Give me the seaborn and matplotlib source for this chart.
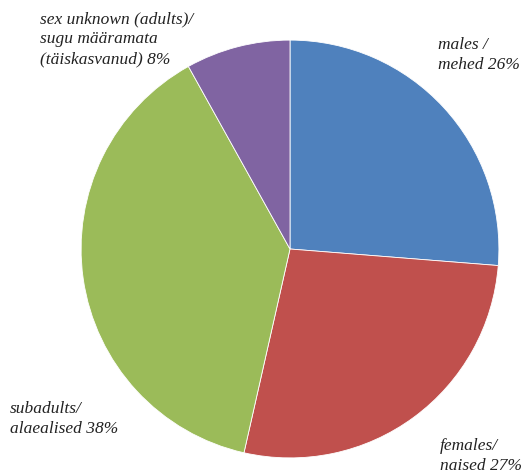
import matplotlib
matplotlib.use("Agg")
import matplotlib.pyplot as plt
import seaborn as sns

# shares in %, clockwise from 12 o'clock
categories = ["males / mehed", "females / naised", "subadults / alaealised",
              "sex unknown (adults) / sugu määramata (täiskasvanud)"]
shares = [26, 27, 38, 8]
colors = ["#4F81BD", "#C0504D", "#9BBB59", "#8064A2"]
label_texts = ["males /\nmehed 26%", "females/\nnaised 27%", "subadults/\nalaealised 38%",
               "sex unknown (adults)/\nsugu määramata\n(täiskasvanud) 8%"]

sns.set_style("white")
plt.rcParams['font.family'] = ['Liberation Serif', 'DejaVu Serif']

fig = plt.figure(figsize=(5.23, 4.77), dpi=100)
W, H = 523, 477
cx, cy, r = 290, 250, 211
ax = fig.add_axes([(cx - r) / W, (H - cy - r) / H, 2 * r / W, 2 * r / H])
ax.pie(shares, colors=colors, startangle=90, counterclock=False, radius=1,
       wedgeprops=dict(edgecolor="white", linewidth=0.6))
ax.set_xlim(-1.01, 1.01)
ax.set_ylim(-1.01, 1.01)
ax.set_aspect("equal")
ax.axis("off")

# label placements (pixels from top-left)
label_pos = [(438, 37), (440, 438), (10, 401), (40, 11)]
for txt, (x, y) in zip(label_texts, label_pos):
    fig.text(x / W, 1 - y / H, txt, ha="left", va="top", fontsize=12.5,
             style="italic", linespacing=1.34, color="#222222")

fig.savefig("out.png", dpi=100)
